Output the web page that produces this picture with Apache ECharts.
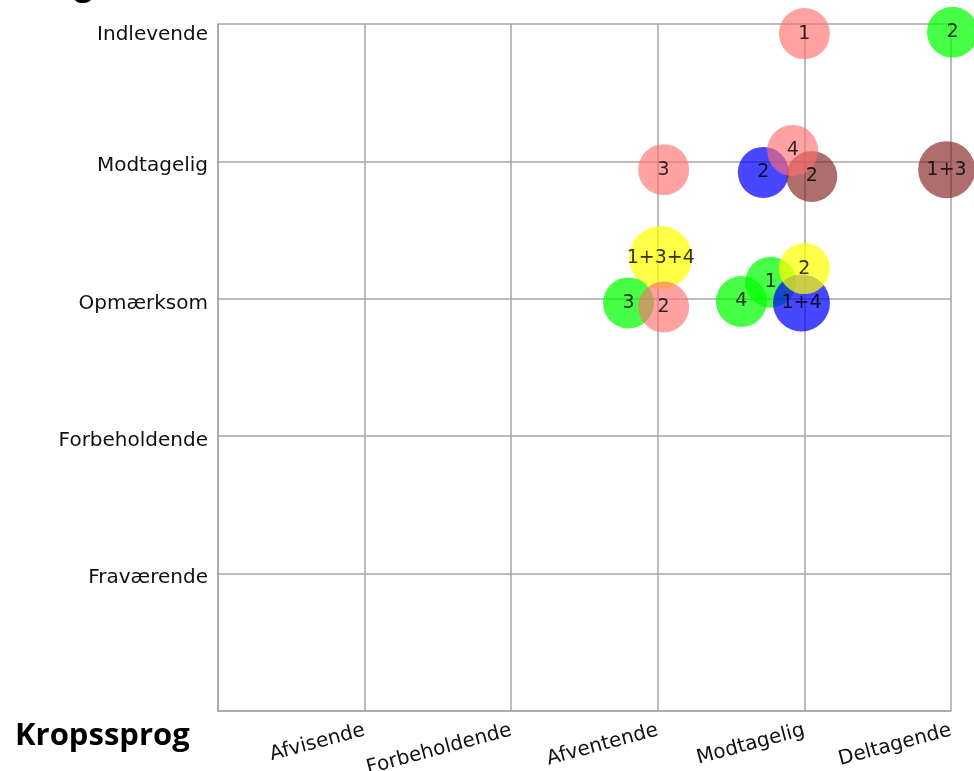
<!DOCTYPE html>
<html>
<head>
<meta charset="utf-8">
<script src="https://cdn.jsdelivr.net/npm/echarts@6/dist/echarts.min.js"></script>
<style>
  html, body { margin: 0; padding: 0; background: #fff; }
  #chart { width: 974px; height: 771px; }
</style>
</head>
<body>
<div id="chart"></div>
<script>
// categories on both axes (value 1..5)
const xCategories = ['Afvisende', 'Forbeholdende', 'Afventende', 'Modtagelig', 'Deltagende'];
const yCategories = ['Fraværende', 'Forbeholdende', 'Opmærksom', 'Modtagelig', 'Indlevende'];

// bubbles, in drawing order
const pointX = [4.00, 5.01, 3.04, 4.97, 3.72, 4.05, 3.92, 3.02, 2.80, 3.04, 3.57, 3.77, 3.98, 4.00];
const pointY = [4.93, 4.94, 3.94, 3.94, 3.92, 3.89, 4.08, 3.30, 2.97, 2.94, 2.98, 3.12, 2.97, 3.22];
const pointLabel = ['1', '2', '3', '1+3', '2', '2', '4', '1+3+4', '3', '2', '4', '1', '1+4', '2'];
const pointGroup = [0, 1, 0, 3, 2, 3, 0, 4, 1, 0, 1, 1, 2, 4];

const groupColors = [
    'rgba(255,110,110,0.8)',  // pink
    'rgba(0,255,0,0.9)',      // green
    'rgba(0,0,255,0.9)',      // blue
    'rgba(128,28,28,0.8)',    // brown
    'rgba(255,255,0,0.9)'     // yellow
];

const gridColor = '#a6a6a6';
const labelFont = 'DejaVu Sans';

const chart = echarts.init(document.getElementById('chart'));

const data = pointX.map((x, i) => ({
    value: [x, pointY[i]],
    name: pointLabel[i],
    symbolSize: 45 + 6 * pointLabel[i].split('+').length,
    itemStyle: { color: groupColors[pointGroup[i]] }
}));

chart.setOption({
    animation: false,
    grid: {
        left: 218, right: 23, top: 24, bottom: 60,
        containLabel: false,
        outerBoundsMode: 'none'
    },
    xAxis: {
        type: 'value',
        min: 0,
        max: 5,
        interval: 1,
        axisLine: { show: true, lineStyle: { color: gridColor, width: 1.5 } },
        axisTick: { show: false },
        splitLine: { show: true, lineStyle: { color: gridColor, width: 1.5 } },
        axisLabel: {
            rotate: 15,
            margin: 19,
            color: '#111',
            fontFamily: labelFont,
            fontSize: 20,
            formatter: v => (v >= 1 ? xCategories[v - 1] : '')
        }
    },
    yAxis: {
        type: 'value',
        min: 0,
        max: 5,
        interval: 1,
        axisLine: { show: true, lineStyle: { color: gridColor, width: 1.5 } },
        axisTick: { show: false },
        splitLine: { show: true, lineStyle: { color: gridColor, width: 1.5 } },
        axisLabel: {
            margin: 10,
            color: '#111',
            fontFamily: labelFont,
            fontSize: 20,
            padding: [9, 0, 0, 0],
            formatter: v => {
                if (v < 1) return '';
                if (v === 5) return '{t|' + yCategories[v - 1] + '}';
                return yCategories[v - 1];
            },
            rich: {
                t: { fontFamily: labelFont, fontSize: 20, color: '#111', padding: [12, 0, 0, 0] }
            }
        }
    },
    graphic: [
        {
            type: 'text',
            left: 8,
            top: -28,
            style: { text: 'Ansigt', font: 'bold 31px "Open Sans"', fill: '#000' }
        },
        {
            type: 'text',
            left: 15,
            top: 721,
            style: { text: 'Kropssprog', font: 'bold 31px "Open Sans"', fill: '#000' }
        }
    ],
    series: [{
        type: 'scatter',
        clip: false,
        data: data,
        label: {
            show: true,
            position: 'inside',
            formatter: p => p.name,
            color: '#000',
            fontFamily: labelFont,
            fontSize: 19
        },
        emphasis: { disabled: true }
    }]
});
</script>
</body>
</html>
